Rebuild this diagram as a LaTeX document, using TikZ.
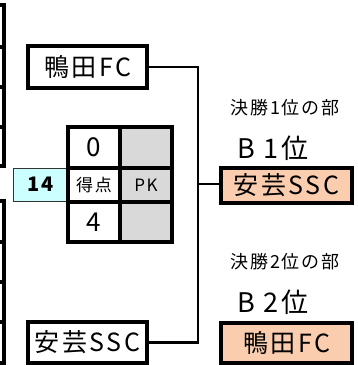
\documentclass[tikz,border=0pt]{standalone}
\usepackage{fontspec}
\setmainfont{Noto Sans CJK JP}[LetterSpace=10]
\usepackage{xcolor}
\definecolor{peach}{RGB}{250,205,175}
\definecolor{lcyan}{RGB}{204,255,255}
\definecolor{lgray}{RGB}{217,217,217}

\begin{document}
\begin{tikzpicture}[x=1pt,y=-1pt]%
  \tikzstyle{teamb}=[rectangle,draw,line width=3.4pt,inner sep=0,minimum width=119pt,font=\fontsize{25}{25}\selectfont]
  \tikzstyle{winb}=[teamb,fill=peach,minimum width=131pt]
  \tikzstyle{cellw}=[rectangle,draw,line width=3.2pt,inner sep=0,minimum width=52pt,font=\fontsize{26}{26}\selectfont]
  \tikzstyle{cellg}=[cellw,fill=lgray,font=\fontsize{17}{17}\selectfont]
  \tikzstyle{totb}=[rectangle,draw=black!80,fill=lcyan,line width=0.9pt,minimum width=56pt,minimum height=33pt,font=\fontsize{20}{20}\selectfont\bfseries]
  \tikzstyle{labt}=[font=\fontsize{18}{18}\selectfont]
  \tikzstyle{rankt}=[font=\fontsize{27}{27}\selectfont]
  \tikzstyle{conn}=[line width=2.4pt]
  \useasboundingbox (0,0) rectangle (358,365);
  \clip (0,0) rectangle (358,365);
  % boxes cut off at the left edge
  \foreach \t/\b in {5/47,47/87,87/127,127/166,201/242,242/282,282/322,322/363}
    \draw[line width=3.2pt] (-20,\t) rectangle (4,\b);
  % semi final
  \node(kamoL)[teamb,minimum height=42pt] at (87.5,67) {鴨田FC};
  \node(akiL)[teamb,minimum height=41pt] at (87.5,342.5) {安芸SSC};
  \node(tot)[totb] at (41,184.5) {14};
  \node(s1)[cellw,minimum height=41pt] at (94,147.5) {0};
  \node(p1)[cellg,minimum height=41pt] at (146,147.5) {};
  \node(s2)[cellw,minimum height=34pt,font=\fontsize{17}{17}\selectfont] at (94,185) {得点};
  \node(p2)[cellg,minimum height=34pt] at (146,185) {PK};
  \node(s3)[cellw,minimum height=40pt] at (94,222) {4};
  \node(p3)[cellg,minimum height=40pt] at (146,222) {};
  % final
  \node(lab1)[labt] at (285,108) {決勝1位の部};
  \node(rk1)[rankt] at (273,148) {B 1位};
  \node(win1)[winb,minimum height=35pt] at (286.5,185.5) {安芸SSC};
  \node(lab2)[labt] at (285,262) {決勝2位の部};
  \node(rk2)[rankt] at (273,302) {B 2位};
  \node(win2)[winb,minimum height=40pt] at (286.5,343) {鴨田FC};
  \coordinate(j1) at (198,67);
  \coordinate(j2) at (198,342.5);
  \coordinate(j3) at (198,184);
  \draw[conn] (kamoL.east) -- (j1) -- (j2) -- (akiL.east);
  \draw[conn] (j3) -- (j3 -| win1.west);
\end{tikzpicture}
\end{document}
